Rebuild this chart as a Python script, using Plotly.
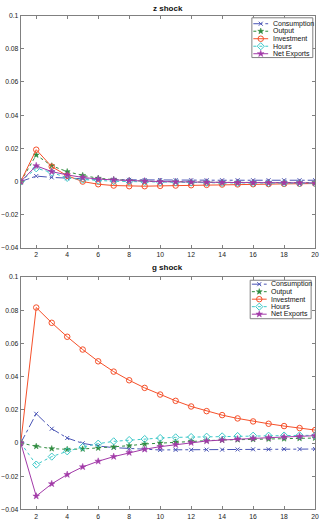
import plotly.graph_objects as go

# Impulse-response horizon
periods = list(range(1, 21))

# Responses to a z (technology) shock
z_consumption = [0, 0.0033, 0.0025, 0.0020, 0.0016, 0.0013, 0.0011, 0.0010, 0.0009, 0.0009,
                 0.0008, 0.0008, 0.0008, 0.0008, 0.0008, 0.0008, 0.0008, 0.0008, 0.0008, 0.0008]
z_output = [0, 0.0160, 0.0095, 0.0060, 0.0037, 0.0020, 0.0012, 0.0006, 0.0002, 0.0,
            -0.0002, -0.0003, -0.0004, -0.0005, -0.0005, -0.0006, -0.0006, -0.0007, -0.0007, -0.0007]
z_investment = [0, 0.0192, 0.0090, 0.0035, 0.0000, -0.0016, -0.0024, -0.0028, -0.0028, -0.0026,
                -0.0024, -0.0022, -0.0020, -0.0018, -0.0017, -0.0016, -0.0015, -0.0014, -0.0013, -0.0012]
z_hours = [0, 0.0080, 0.0055, 0.0022, 0.0012, 0.0006, 0.0002, 0.0, -0.0002, -0.0004,
           -0.0005, -0.0006, -0.0007, -0.0008, -0.0008, -0.0009, -0.0009, -0.0009, -0.0010, -0.0010]
z_net_exports = [0, 0.0095, 0.0060, 0.0040, 0.0025, 0.0015, 0.0010, 0.0005, 0.0003, 0.0,
                 -0.0002, -0.0003, -0.0004, -0.0005, -0.0006, -0.0006, -0.0007, -0.0007, -0.0008, -0.0008]

# Responses to a g (government spending) shock
g_consumption = [0, 0.0176, 0.0086, 0.0030, -0.0002, -0.0018, -0.0028, -0.0034, -0.0038, -0.0042,
                 -0.0041, -0.0041, -0.0040, -0.0040, -0.0039, -0.0038, -0.0038, -0.0037, -0.0037, -0.0036]
g_output = [0, -0.0020, -0.0034, -0.0038, -0.0036, -0.0030, -0.0024, -0.0016, -0.0006, 0.0,
            0.0006, 0.0010, 0.0014, 0.0018, 0.0020, 0.0022, 0.0024, 0.0026, 0.0028, 0.0030]
g_investment = [0, 0.0816, 0.0724, 0.0640, 0.0563, 0.0492, 0.0430, 0.0378, 0.0332, 0.0292,
                0.0254, 0.0220, 0.0192, 0.0168, 0.0148, 0.0130, 0.0116, 0.0102, 0.0090, 0.0078]
g_hours = [0, -0.0130, -0.0082, -0.0050, -0.0024, -0.0004, 0.0010, 0.0018, 0.0024, 0.0030,
           0.0034, 0.0036, 0.0038, 0.0040, 0.0042, 0.0044, 0.0044, 0.0045, 0.0046, 0.0046]
g_net_exports = [0, -0.0320, -0.0246, -0.0190, -0.0144, -0.0110, -0.0082, -0.0058, -0.0038, -0.0022,
                 -0.0010, 0.0002, 0.0012, 0.0018, 0.0024, 0.0028, 0.0032, 0.0036, 0.0040, 0.0044]

series_names = ["Consumption", "Output", "Investment", "Hours", "Net Exports"]
panel_titles = ["z shock", "g shock"]
y_ticks = [-0.04, -0.02, 0, 0.02, 0.04, 0.06, 0.08, 0.1]
x_ticks = list(range(2, 21, 2))

FONT = "Liberation Sans"
W, H = 325, 521

styles = {
    "Consumption": dict(color="#4a55b5", dash="dashdot", symbol="x-thin-open", size=4, lw=1),
    "Output": dict(color="#2e8b3e", dash="dot", symbol="star", size=4.5, lw=0.5),
    "Investment": dict(color="#f5502a", dash="solid", symbol="circle-open", size=5.5, lw=1),
    "Hours": dict(color="#3cc8c8", dash="dot", symbol="diamond-open", size=5.5, lw=1),
    "Net Exports": dict(color="#a23aa8", dash="solid", symbol="star", size=5, lw=0.5),
}

# Panel placement (pixels from the top-left corner)
x_px = (21, 319)
panels_px = [(11.7, 247.3), (276.7, 512.3)]
title_y_px = [5, 267]
# Legend boxes: left, right, top, bottom, sample line x0/x1, text x, first row y, row step
legend_px = [
    dict(l=255, r=316.7, t=14, b=54.3, lx0=256.5, lx1=271.5, tx=274.5, y0=20, dy=7.6),
    dict(l=253.3, r=315, t=280, b=319, lx0=255, lx1=270, tx=272.5, y0=284, dy=7.6),
]

fig = go.Figure()

all_values = [
    [z_consumption, z_output, z_investment, z_hours, z_net_exports],
    [g_consumption, g_output, g_investment, g_hours, g_net_exports],
]


def marker_of(st):
    return dict(symbol=st["symbol"], size=st["size"], color=st["color"],
                line=dict(color=st["color"], width=st["lw"]))


for i, values in enumerate(all_values):
    xa = "x" if i == 0 else "x2"
    ya = "y" if i == 0 else "y2"
    for name, vals in zip(series_names, values):
        st = styles[name]
        fig.add_trace(go.Scatter(
            x=periods, y=vals, name=name, mode="lines+markers",
            xaxis=xa, yaxis=ya, showlegend=False,
            line=dict(color=st["color"], dash=st["dash"], width=1),
            marker=marker_of(st),
        ))

# Legend boxes drawn on a full-figure pixel-coordinate layer
annotations = []
for i, lg in enumerate(legend_px):
    fig.add_trace(go.Scatter(
        x=[lg["l"], lg["r"], lg["r"], lg["l"], lg["l"]],
        y=[lg["t"], lg["t"], lg["b"], lg["b"], lg["t"]],
        mode="lines", fill="toself", fillcolor="white",
        line=dict(color="#808080", width=1),
        xaxis="x3", yaxis="y3", showlegend=False, hoverinfo="skip",
    ))
    for k, name in enumerate(series_names):
        st = styles[name]
        yy = lg["y0"] + k * lg["dy"]
        fig.add_trace(go.Scatter(
            x=[lg["lx0"], lg["lx1"]], y=[yy, yy], mode="lines",
            line=dict(color=st["color"], dash=st["dash"], width=1),
            xaxis="x3", yaxis="y3", showlegend=False, hoverinfo="skip",
        ))
        fig.add_trace(go.Scatter(
            x=[(lg["lx0"] + lg["lx1"]) / 2], y=[yy], mode="markers",
            marker=marker_of(st),
            xaxis="x3", yaxis="y3", showlegend=False, hoverinfo="skip",
        ))
        annotations.append(dict(
            text=name, x=lg["tx"], y=yy, xref="x3", yref="y3",
            xanchor="left", yanchor="middle", showarrow=False,
            font=dict(family=FONT, size=7, color="#111"),
        ))

x_dom = [x_px[0] / W, x_px[1] / W]
for i, title in enumerate(panel_titles):
    annotations.append(dict(
        text="<b>" + title + "</b>", x=(x_px[0] + x_px[1]) / 2, y=title_y_px[i],
        xref="x3", yref="y3", showarrow=False, yanchor="middle",
        font=dict(family=FONT, size=8, color="#111"),
    ))

axis_common = dict(
    range=[1, 20], showgrid=False, zeroline=False, showline=True,
    linecolor="#808080", linewidth=1, mirror="ticks", ticks="inside",
    ticklen=3, tickcolor="#808080",
    tickfont=dict(family=FONT, size=6.8, color="#222"),
)
yaxis_common = dict(axis_common, range=[-0.04, 0.1], tickvals=y_ticks)
xaxis_common = dict(axis_common, tickvals=x_ticks)

doms = [[1 - b / H, 1 - t / H] for (t, b) in panels_px]

fig.update_layout(
    width=W, height=H,
    margin=dict(l=0, r=0, t=0, b=0),
    paper_bgcolor="white", plot_bgcolor="rgba(0,0,0,0)",
    showlegend=False,
    xaxis=dict(xaxis_common, domain=x_dom, anchor="y"),
    yaxis=dict(yaxis_common, domain=doms[0], anchor="x"),
    xaxis2=dict(xaxis_common, domain=x_dom, anchor="y2"),
    yaxis2=dict(yaxis_common, domain=doms[1], anchor="x2"),
    xaxis3=dict(domain=[0, 1], range=[0, W], visible=False, anchor="y3", fixedrange=True),
    yaxis3=dict(domain=[0, 1], range=[H, 0], visible=False, anchor="x3", fixedrange=True),
    annotations=annotations,
)

fig.write_html("out.html")
